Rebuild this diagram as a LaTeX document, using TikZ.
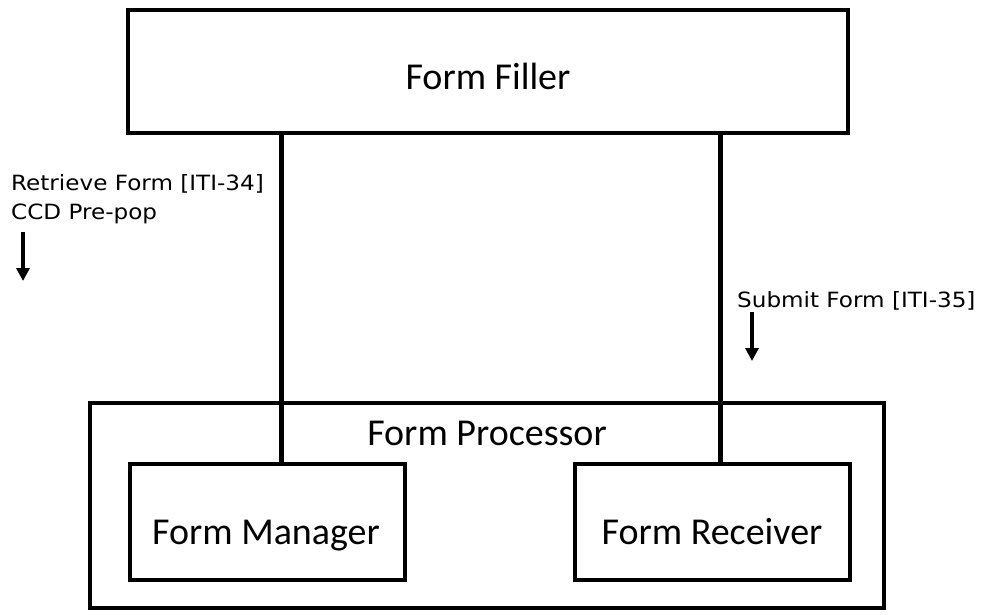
\documentclass[tikz,border=0pt]{standalone}
\usepackage{fontspec}
\setmainfont{Carlito}
\newfontfamily\lblfont[FakeStretch=1.1]{DejaVu Sans}
\usetikzlibrary{arrows.meta}
\begin{document}
\begin{tikzpicture}[x=1pt,y=-1pt,
  box/.style={draw=black, line width=3.5pt, inner sep=0pt},
  title/.style={inner sep=0pt, anchor=base, font=\fontsize{38}{40}\selectfont},
  conn/.style={draw=black, line width=5pt},
  lbl/.style={inner sep=0pt, anchor=base west, font=\lblfont\fontsize{21}{24}\selectfont},
  flow/.style={draw=black, line width=3.5pt, -{Triangle[length=13pt, width=13pt]}}]
\useasboundingbox (0,0) rectangle (983,614);

% actor boxes
\node[box, minimum width=720pt, minimum height=123pt] (filler) at (488,71.5) {};
\node[box, minimum width=794pt, minimum height=205pt] (proc) at (487,505.5) {};
\node[box, minimum width=275pt, minimum height=116pt] (mgr) at (267.5,522) {};
\node[box, minimum width=275pt, minimum height=116pt] (rcv) at (712.5,522) {};

% actor names (placed on their baselines)
\node[title] (fillerlabel) at (488,89) {Form Filler};
\node[title] (proclabel) at (487,445) {Form Processor};
\node[title] (mgrlabel) at (266,544) {Form Manager};
\node[title] (rcvlabel) at (712,544) {Form Receiver};

% transaction links
\coordinate (linkA) at (281,0);
\coordinate (linkB) at (720,0);
\draw[conn] (linkA |- filler.south) -- (linkA |- mgr.north);
\draw[conn] (linkB |- filler.south) -- (linkB |- rcv.north);

% transaction labels
\node[lbl] (retrieve) at (11,190) {Retrieve Form [ITI-34]};
\node[lbl] (prepop) at (11,219) {CCD Pre-pop};
\node[lbl] (submit) at (737,307) {Submit Form [ITI-35]};

% direction arrows
\coordinate (a1s) at (23,232);
\coordinate (a1e) at (23,281);
\coordinate (a2s) at (752,312);
\coordinate (a2e) at (752,361);
\draw[flow] (a1s) -- (a1e);
\draw[flow] (a2s) -- (a2e);
\end{tikzpicture}
\end{document}
